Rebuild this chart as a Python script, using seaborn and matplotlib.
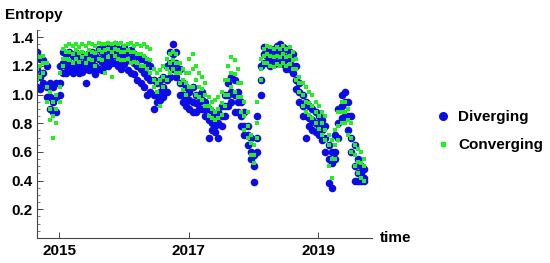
import numpy as np
import pandas as pd
import seaborn as sns
import matplotlib.pyplot as plt
from matplotlib.ticker import MultipleLocator
from matplotlib.lines import Line2D

# time grid (decimal years), one reading every ~18 days
start_year = 2014.66
step = 0.05

# Diverging: upper / middle / lower readings at each time
div_hi = [1.30, 1.25, 1.24, 1.20, 1.08, 1.05, 1.08, 1.20, 1.30, 1.28,
          1.30, 1.27, 1.29, 1.26, 1.28, 1.25, 1.29, 1.30, 1.27, 1.32,
          1.30, 1.33, 1.31, 1.33, 1.35, 1.32, 1.30, 1.33, 1.30, 1.31,
          1.28, 1.27, 1.25, 1.25, 1.22, 1.20, 1.10, 1.08, 1.10, 1.12,
          1.20, 1.30, 1.35, 1.30, 1.18, 1.08, 1.05, 1.02, 1.05, 1.00,
          1.00, 1.02, 0.95, 0.90, 0.88, 0.86, 0.88, 0.92, 1.00, 1.08,
          1.12, 1.10, 1.02, 0.95, 0.88, 0.78, 0.70, 0.58, 0.85, 1.20,
          1.33, 1.32, 1.30, 1.32, 1.34, 1.35, 1.33, 1.32, 1.30, 1.28,
          1.20, 1.08, 1.00, 0.95, 0.92, 0.90, 0.88, 0.85, 0.82, 0.78,
          0.65, 0.60, 0.72, 0.90, 1.00, 1.02, 0.95, 0.85, 0.65, 0.55,
          0.50, 0.48]
div_mid = [1.18, 1.12, 1.15, 1.05, 0.98, 0.95, 0.98, 1.08, 1.22, 1.20,
           1.22, 1.20, 1.23, 1.19, 1.21, 1.18, 1.22, 1.24, 1.20, 1.25,
           1.23, 1.26, 1.25, 1.27, 1.28, 1.26, 1.24, 1.27, 1.24, 1.25,
           1.22, 1.20, 1.18, 1.15, 1.12, 1.10, 1.00, 1.00, 1.02, 1.05,
           1.10, 1.22, 1.28, 1.22, 1.08, 1.00, 0.98, 0.96, 0.95, 0.94,
           0.95, 0.96, 0.90, 0.82, 0.80, 0.78, 0.80, 0.85, 0.92, 1.00,
           1.02, 1.00, 0.95, 0.85, 0.78, 0.72, 0.60, 0.50, 0.70, 1.10,
           1.28, 1.27, 1.25, 1.26, 1.28, 1.29, 1.27, 1.25, 1.24, 1.20,
           1.10, 1.02, 0.92, 0.85, 0.84, 0.82, 0.80, 0.78, 0.75, 0.70,
           0.55, 0.52, 0.60, 0.80, 0.92, 0.95, 0.85, 0.70, 0.50, 0.45,
           0.45, 0.42]
div_lo = [1.05, 1.04, 1.08, 0.98, 0.90, 0.88, 0.88, 1.00, 1.15, 1.15,
          1.17, 1.15, 1.18, 1.15, 1.16, 1.08, 1.17, 1.18, 1.14, 1.18,
          1.17, 1.20, 1.20, 1.22, 1.22, 1.20, 1.18, 1.21, 1.17, 1.15,
          1.14, 1.10, 1.08, 1.05, 1.00, 1.02, 0.90, 0.95, 0.96, 0.98,
          1.02, 1.12, 1.18, 1.12, 1.00, 0.95, 0.92, 0.90, 0.88, 0.88,
          0.90, 0.90, 0.85, 0.70, 0.75, 0.74, 0.70, 0.78, 0.85, 0.92,
          0.95, 0.88, 0.88, 0.78, 0.72, 0.65, 0.55, 0.39, 0.60, 1.00,
          1.22, 1.22, 1.20, 1.21, 1.22, 1.23, 1.21, 1.18, 1.18, 1.15,
          1.04, 0.95, 0.85, 0.70, 0.78, 0.75, 0.74, 0.72, 0.68, 0.60,
          0.38, 0.35, 0.55, 0.70, 0.84, 0.85, 0.75, 0.60, 0.40, 0.40,
          0.40, 0.40]

# Converging
conv_hi = [1.27, 1.26, 1.27, 1.22, 1.02, 0.95, 1.00, 1.15, 1.32, 1.34,
           1.35, 1.34, 1.35, 1.33, 1.35, 1.34, 1.36, 1.35, 1.34, 1.36,
           1.35, 1.35, 1.36, 1.35, 1.36, 1.35, 1.36, 1.34, 1.35, 1.36,
           1.34, 1.35, 1.34, 1.35, 1.33, 1.32, 1.18, 1.15, 1.17, 1.20,
           1.25, 1.28, 1.30, 1.28, 1.22, 1.18, 1.15, 1.25, 1.28, 1.20,
           1.15, 1.12, 1.08, 0.98, 0.95, 0.96, 0.98, 1.02, 1.10, 1.20,
           1.26, 1.24, 1.18, 1.08, 0.95, 0.88, 0.72, 0.65, 0.95, 1.25,
           1.32, 1.34, 1.33, 1.32, 1.33, 1.32, 1.34, 1.32, 1.33, 1.30,
           1.25, 1.12, 1.08, 1.05, 1.02, 1.00, 0.95, 0.92, 0.88, 0.85,
           0.72, 0.68, 0.75, 0.88, 0.95, 0.95, 0.90, 0.80, 0.65, 0.62,
           0.60, 0.55]
conv_mid = [1.18, 1.20, 1.22, 1.05, 0.90, 0.85, 0.90, 1.05, 1.25, 1.30,
            1.30, 1.28, 1.31, 1.29, 1.30, 1.28, 1.31, 1.30, 1.29, 1.31,
            1.30, 1.31, 1.32, 1.30, 1.32, 1.31, 1.30, 1.30, 1.31, 1.30,
            1.30, 1.28, 1.28, 1.27, 1.25, 1.24, 1.10, 1.08, 1.10, 1.12,
            1.18, 1.22, 1.24, 1.22, 1.15, 1.10, 1.08, 1.15, 1.18, 1.10,
            1.05, 1.04, 1.00, 0.92, 0.90, 0.88, 0.90, 0.94, 1.00, 1.10,
            1.15, 1.14, 1.08, 0.98, 0.85, 0.78, 0.66, 0.58, 0.80, 1.18,
            1.27, 1.28, 1.27, 1.26, 1.27, 1.26, 1.28, 1.26, 1.27, 1.24,
            1.18, 1.08, 1.00, 0.95, 0.94, 0.92, 0.88, 0.85, 0.80, 0.75,
            0.65, 0.55, 0.65, 0.78, 0.88, 0.88, 0.82, 0.70, 0.58, 0.53,
            0.52, 0.50]
conv_lo = [1.10, 1.12, 1.15, 0.95, 0.82, 0.70, 0.80, 0.95, 1.20, 1.25,
           1.24, 1.22, 1.25, 1.23, 1.26, 1.22, 1.25, 1.24, 1.20, 1.25,
           1.24, 1.15, 1.26, 1.12, 1.27, 1.25, 1.24, 1.24, 1.25, 1.22,
           1.23, 1.22, 1.20, 1.20, 1.18, 1.15, 1.05, 1.02, 0.92, 1.05,
           1.10, 1.15, 1.18, 1.15, 1.08, 1.03, 1.00, 1.05, 1.05, 1.00,
           0.98, 0.96, 0.92, 0.85, 0.84, 0.82, 0.84, 0.86, 0.92, 1.00,
           1.05, 1.02, 0.98, 0.88, 0.75, 0.70, 0.58, 0.52, 0.70, 1.10,
           1.22, 1.22, 1.20, 1.19, 1.21, 1.20, 1.22, 1.20, 1.21, 1.18,
           1.10, 1.02, 0.92, 0.88, 0.86, 0.84, 0.80, 0.76, 0.72, 0.68,
           0.50, 0.42, 0.55, 0.68, 0.80, 0.80, 0.72, 0.60, 0.50, 0.45,
           0.42, 0.40]

x_ticks = [2015, 2017, 2019]
y_ticks = [0.2, 0.4, 0.6, 0.8, 1.0, 1.2, 1.4]

time = start_year + step * np.arange(len(div_hi))

div = pd.DataFrame({"time": np.tile(time, 3),
                    "entropy": div_hi + div_mid + div_lo})
conv = pd.DataFrame({"time": np.tile(time, 3),
                     "entropy": conv_hi + conv_mid + conv_lo})

sns.set_style("white")
plt.rcParams["font.family"] = ["Liberation Sans", "DejaVu Sans"]
plt.rcParams["font.weight"] = "bold"
plt.rcParams["text.color"] = "black"
plt.rcParams["xtick.color"] = "black"
plt.rcParams["ytick.color"] = "black"

BLUE = "#0c0ce6"
GREEN = "#22ee22"
FS = 11

fig = plt.figure(figsize=(5.5, 2.63), dpi=100)
ax = fig.add_axes([37 / 550, 25 / 263, 335 / 550, 208 / 263])

sns.scatterplot(data=div, x="time", y="entropy", ax=ax, color=BLUE,
                marker="o", s=30, linewidth=0, legend=False)
sns.scatterplot(data=conv, x="time", y="entropy", ax=ax, color=GREEN,
                marker="s", s=12, linewidth=0, legend=False)

ax.set_xlim(2014.66, 2019.83)
ax.set_ylim(0, 1.45)
ax.set_xticks(x_ticks)
ax.set_yticks(y_ticks)
ax.set_xticklabels([str(t) for t in x_ticks])
ax.set_yticklabels([f"{v:.1f}" for v in y_ticks])
ax.yaxis.set_minor_locator(MultipleLocator(0.05))
ax.set_xlabel("")
ax.set_ylabel("")

for side in ["top", "right"]:
    ax.spines[side].set_visible(False)
for side in ["left", "bottom"]:
    ax.spines[side].set_color("#444444")
    ax.spines[side].set_linewidth(0.8)

ax.tick_params(axis="both", which="both", left=True, bottom=True,
               direction="in", color="#444444")
ax.tick_params(axis="both", which="major", length=4, width=0.7,
               labelsize=FS, labelcolor="black")
ax.tick_params(axis="y", which="minor", length=2, width=0.5)
ax.tick_params(axis="y", pad=3)
ax.tick_params(axis="x", pad=4)

fig.text(5 / 550, 1 - 15 / 263, "Entropy", fontsize=FS, fontweight="bold",
         va="center", ha="left", color="black")
fig.text(380 / 550, 25 / 263, "time", fontsize=FS, fontweight="bold",
         va="center", ha="left", color="black")

handles = [Line2D([], [], marker="o", color=BLUE, linestyle="none", markersize=5.5),
           Line2D([], [], marker="s", color=GREEN, linestyle="none", markersize=3.5)]
fig.legend(handles, ["Diverging", "Converging"], loc="center left",
           bbox_to_anchor=(423 / 550, 1 - 131 / 263), frameon=False,
           handlelength=0.8, handletextpad=0.6, labelspacing=0.9,
           prop={"weight": "bold", "size": FS}, labelcolor="black")

fig.savefig("out.png", dpi=100)
